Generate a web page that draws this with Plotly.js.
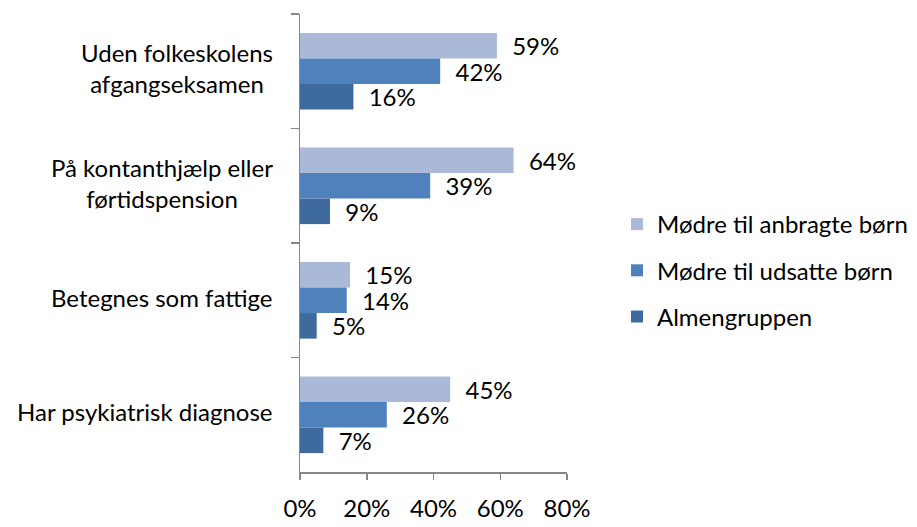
<!DOCTYPE html>
<html>
<head>
<meta charset="utf-8">
<script src="https://cdn.plot.ly/plotly-3.0.1.min.js"></script>
<style>html,body{margin:0;padding:0;background:#fff;}#chart{width:917px;height:527px;}</style>
</head>
<body>
<div id="chart"></div>
<script>
const categories = ["Uden folkeskolens afgangseksamen", "På kontanthjælp eller førtidspension", "Betegnes som fattige", "Har psykiatrisk diagnose"];
const categoryLabels = ["Uden folkeskolens<br>afgangseksamen", "På kontanthjælp eller<br>førtidspension", "Betegnes som fattige", "Har psykiatrisk diagnose"];
const seriesNames = ["Mødre til anbragte børn", "Mødre til udsatte børn", "Almengruppen"];
const anbragte = [0.59, 0.64, 0.15, 0.45];
const udsatte = [0.42, 0.39, 0.14, 0.26];
const almen = [0.16, 0.09, 0.05, 0.07];
const xTicks = [0, 0.2, 0.4, 0.6, 0.8];

const colors = ["#AAB9D8", "#4F81BD", "#3F6A9D"];
const FONT = "Lato, 'Liberation Sans', Arial, sans-serif";
const FS = 24;

const seriesValues = [anbragte, udsatte, almen];
const traces = seriesValues.map((vals, i) => ({
  type: "bar",
  orientation: "h",
  name: seriesNames[i],
  legendgroup: "g" + i,
  y: categories,
  x: vals,
  marker: {color: colors[i], line: {width: 0}},
  texttemplate: "\u00a0\u00a0%{x:.0%}",
  textposition: "outside",
  textfont: {family: FONT, size: FS, color: "#000"},
  constraintext: "none",
  cliponaxis: false,
  hoverinfo: "skip"
}));

const annotations = categories.map((c, i) => ({
  xref: "paper", yref: "y",
  x: 0, y: c, xshift: -25, yshift: 3,
  xanchor: "right", yanchor: "middle",
  align: "center",
  text: categoryLabels[i],
  showarrow: false,
  font: {family: FONT, size: FS, color: "#000"}
}));

const layout = {
  width: 917, height: 527,
  margin: {l: 300, r: 350, t: 14, b: 55, pad: 0, autoexpand: false},
  paper_bgcolor: "#fff", plot_bgcolor: "#fff",
  barmode: "group", bargap: 0.33, bargroupgap: 0,
  font: {family: FONT, size: FS, color: "#000"},
  showlegend: true,
  legend: {xref: "container", x: 617 / 917, y: 0.5895, xanchor: "left", yanchor: "top",
           tracegroupgap: 12,
           font: {family: FONT, size: FS, color: "#000"}, bgcolor: "rgba(0,0,0,0)"},
  xaxis: {
    range: [0, 0.8], tickvals: xTicks, tickformat: ".0%",
    showgrid: false, zeroline: false,
    showline: true, linecolor: "#868686", linewidth: 1.5,
    ticks: "outside", ticklen: 6, tickcolor: "#868686", tickwidth: 1.5,
    ticklabelstandoff: 9,
    tickfont: {family: FONT, size: FS, color: "#000"}
  },
  yaxis: {
    type: "category", categoryarray: categories, categoryorder: "array",
    range: [3.5, -0.5],
    showgrid: false, zeroline: false,
    showline: true, linecolor: "#868686", linewidth: 1.5,
    ticks: "outside", tickson: "boundaries", ticklen: 8, tickcolor: "#868686", tickwidth: 1.5,
    showticklabels: false
  },
  annotations: annotations
};

Plotly.newPlot("chart", traces, layout, {displayModeBar: false, staticPlot: true});
</script>
</body>
</html>
